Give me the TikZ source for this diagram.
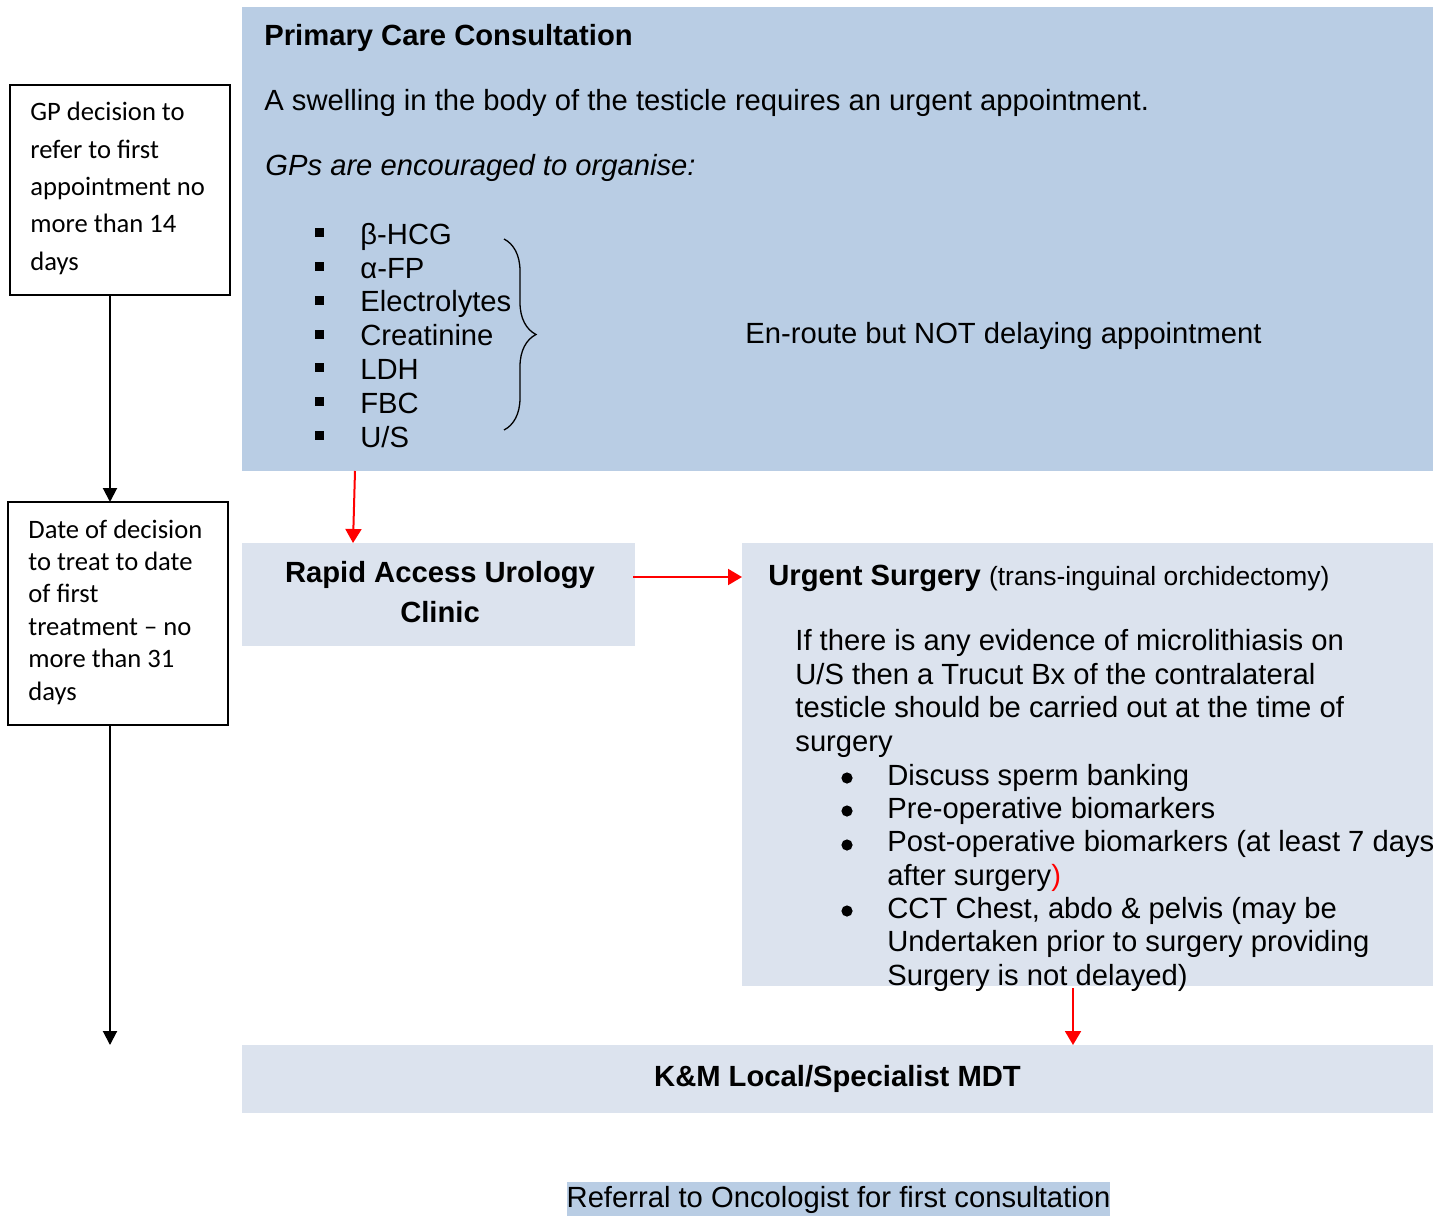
\documentclass[tikz,border=0pt]{standalone}
\usepackage{fontspec}
\setmainfont{Liberation Sans}
\newfontfamily\calibri{Carlito}
\usetikzlibrary{arrows.meta}
\usetikzlibrary{calc}
\usetikzlibrary{decorations.pathreplacing}

\definecolor{pccblue}{HTML}{B9CDE4}
\definecolor{paleblue}{HTML}{DCE3EE}

\newcommand{\bodyfont}{\fontsize{14.6}{16.7}\selectfont}

% multi-line text nodes are placed at the baseline of their last line
\tikzset{
  flowbox/.style={anchor=north west, inner sep=0pt, outer sep=0pt},
  pccbox/.style={flowbox, fill=pccblue},
  palebox/.style={flowbox, fill=paleblue},
  timebox/.style={flowbox, draw=black, line width=1pt, fill=white},
  txt/.style={anchor=base west, inner sep=0pt, align=left, font=\bodyfont},
  timetxt/.style={anchor=base west, inner sep=0pt, align=left},
  redarrow/.style={red, line width=1pt, -{Triangle[length=7pt,width=8pt]}},
  blackarrow/.style={black, line width=1pt, -{Triangle[length=7pt,width=7pt]}},
}

\begin{document}
\begin{tikzpicture}[x=0.5pt,y=0.5pt,yscale=-1,xscale=1]
\useasboundingbox (0,0) rectangle (1450,1215);

%Rect [primary care]
\node [pccbox, minimum width=595.5pt, minimum height=232pt] (pcc) at (242,7) {};
%Rect [rapid access clinic]
\node [palebox, minimum width=196.5pt, minimum height=51.5pt] (rauc) at (242,543) {};
%Rect [urgent surgery]
\node [palebox, minimum width=345.5pt, minimum height=221.5pt] (urg) at (742,543) {};
%Rect [MDT]
\node [palebox, minimum width=595.5pt, minimum height=34pt] (mdt) at (242,1045) {};

%Rect [time limits, left]
\node [timebox, minimum width=110pt, minimum height=105pt] (gp) at (10,85) {};
\node [timebox, minimum width=110pt, minimum height=111.5pt] (dtt) at (8,502) {};

% Text Node
\node [timetxt, font=\calibri\fontsize{13.3}{18.65}\selectfont] (gptxt) at (30,270) {GP decision to\\refer to first\\appointment no\\more than 14\\days};
% Text Node
\node [timetxt, font=\calibri\fontsize{13.3}{16.2}\selectfont] (dtttxt) at (28,700) {Date of decision\\to treat to date\\of first\\treatment – no\\more than 31\\days};

%Straight Lines [time line]
\coordinate (spine) at (110,0);
\coordinate (spineend) at (110,1045);
\draw [blackarrow] (gp.south -| spine) -- (dtt.north -| spine);
\draw [blackarrow] (dtt.south -| spine) -- (spineend);

% Text Node
\node [txt, font=\bodyfont\bfseries] (pcctitle) at (264,45) {Primary Care Consultation};
% Text Node
\node [txt] (swell) at (264,110) {A swelling in the body of the testicle requires an urgent appointment.};
% Text Node
\node [txt, font=\bodyfont\itshape] (gps) at (265,175) {GPs are encouraged to organise:};

%Square bullets
\fill (315,228) rectangle ++(8.5,8.5);
\fill (315,262) rectangle ++(8.5,8.5);
\fill (315,296) rectangle ++(8.5,8.5);
\fill (315,330) rectangle ++(8.5,8.5);
\fill (315,363) rectangle ++(8.5,8.5);
\fill (315,397) rectangle ++(8.5,8.5);
\fill (315,431) rectangle ++(8.5,8.5);
% Text Node
\node [txt, font=\fontsize{14.6}{16.9}\selectfont] (tests) at (360,447) {β-HCG\\α-FP\\Electrolytes\\Creatinine\\LDH\\FBC\\U/S};
%Brace
\draw [line width=0.65pt, decorate, decoration={brace, amplitude=16pt}] (504,239) -- (504,430);
% Text Node
\node [txt] (enroute) at (745,343) {En-route but NOT delaying appointment};

% Text Node
\node [txt, anchor=base, align=center, font=\fontsize{14.6}{20}\selectfont\bfseries] (rauctxt) at (440,622) {Rapid Access Urology\\Clinic};

% Text Node
\node [txt] (urghead) at (768,585) {\textbf{Urgent Surgery} {\fontsize{13.2}{16}\selectfont (trans-inguinal orchidectomy)}};
% Text Node
\node [txt] (urgpara) at (795,751) {If there is any evidence of microlithiasis on\\U/S then a Trucut Bx of the contralateral\\testicle should be carried out at the time of\\surgery};
%Round bullets
\fill (847,778) circle [radius=2.8pt];
\fill (847,811) circle [radius=2.8pt];
\fill (847,845) circle [radius=2.8pt];
\fill (847,911) circle [radius=2.8pt];
% Text Node
\node [txt] (sperm) at (887,785) {Discuss sperm banking};
\node [txt] (preop) at (887,818) {Pre-operative biomarkers};
\node [txt] (postop) at (887,885) {Post-operative biomarkers (at least 7 days\\after surgery\textcolor{red}{)}};
\node [txt] (cct) at (887,985) {CCT Chest, abdo \& pelvis (may be\\Undertaken prior to surgery providing\\Surgery is not delayed)};

% Text Node
\node [txt, anchor=base, font=\bodyfont\bfseries] (mdttxt) at (837.5,1086) {K\&M Local/Specialist MDT};
% Text Node
\node [txt, anchor=base, fill=pccblue, inner ysep=1.75pt] (oncol) at (838.5,1207) {Referral to Oncologist for first consultation};

%Straight Lines [referral path]
\draw [redarrow] ($(pcc.south west)+(113,0)$) -- ($(rauc.north west)+(111,0)$);
\draw [redarrow] ($(rauc.north east)+(-2,34)$) -- ($(urg.north west)+(0,34)$);
\draw [redarrow] ($(urg.south west)+(331,2)$) -- ($(mdt.north west)+(831,0)$);

\end{tikzpicture}
\end{document}
